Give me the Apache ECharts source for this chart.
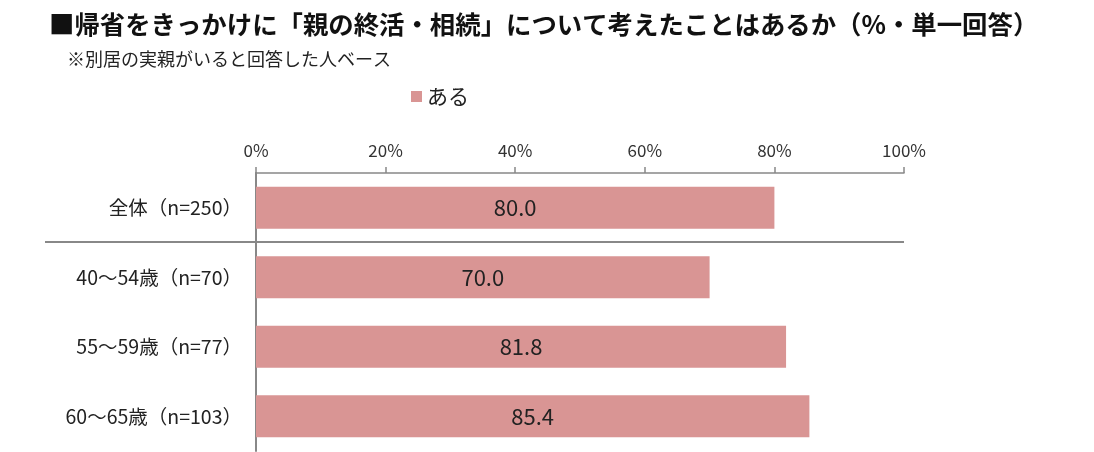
<!DOCTYPE html>
<html>
<head>
<meta charset="utf-8">
<script src="https://cdn.jsdelivr.net/npm/echarts@6/dist/echarts.min.js"></script>
<style>
html,body{margin:0;padding:0;background:#fff;}
#main{width:1094px;height:452px;}
</style>
</head>
<body>
<div id="main"></div>
<script>
var titleText = '■帰省をきっかけに「親の終活・相続」について考えたことはあるか（%・単一回答）';
var subText = '※別居の実親がいると回答した人ベース';
var seriesName = 'ある';
var categories = ['全体（n=250）', '40～54歳（n=70）', '55～59歳（n=77）', '60～65歳（n=103）'];
var values = [80.0, 70.0, 81.8, 85.4];
var xTicks = [0, 20, 40, 60, 80, 100];

var font = '"Noto Sans CJK JP", "Noto Sans", sans-serif';
var myChart = echarts.init(document.getElementById('main'));

var option = {
    animation: false,
    textStyle: { fontFamily: font },
    title: [
        {
            text: titleText,
            left: 44, top: 7,
            textStyle: { fontSize: 25.4, fontWeight: 'bold', color: '#111', fontFamily: font }
        },
        {
            text: subText,
            left: 62, top: 45,
            textStyle: { fontSize: 18, fontWeight: 'normal', color: '#222', fontFamily: font }
        }
    ],
    legend: {
        data: [seriesName],
        left: 406, top: 81,
        icon: 'rect',
        itemWidth: 11, itemHeight: 11, itemGap: 8,
        textStyle: { fontSize: 21, color: '#222', fontFamily: font }
    },
    grid: { left: 256, right: 190, top: 173, bottom: 1, containLabel: false },
    xAxis: {
        type: 'value',
        position: 'top',
        min: xTicks[0], max: xTicks[xTicks.length - 1], interval: 20,
        axisLine: { show: true, lineStyle: { color: '#888', width: 1.5 } },
        axisTick: { show: true, length: 6, lineStyle: { color: '#888', width: 1.5 } },
        axisLabel: { formatter: '{value}%', fontSize: 17, color: '#333', margin: 14, fontFamily: font },
        splitLine: { show: false }
    },
    yAxis: {
        type: 'category',
        inverse: true,
        data: categories,
        axisLine: { show: true, lineStyle: { color: '#888', width: 2 } },
        axisTick: { show: false },
        splitLine: { show: false },
        axisLabel: { fontSize: 19.5, color: '#222', margin: 14, fontFamily: font, interval: 0 }
    },
    series: [
        {
            name: seriesName,
            type: 'bar',
            data: values,
            barWidth: 42,
            itemStyle: { color: '#D99594' },
            label: {
                show: true, position: 'inside',
                formatter: function (p) { return p.value.toFixed(1); },
                fontSize: 22, color: '#222', fontFamily: font
            }
        }
    ]
};
myChart.setOption(option);

// separator between 全体 and the age groups, placed from the axis scales
var p0 = myChart.convertToPixel({ gridIndex: 0 }, [xTicks[0], categories[0]]);
var p1 = myChart.convertToPixel({ gridIndex: 0 }, [xTicks[xTicks.length - 1], categories[1]]);
var sepY = Math.round((p0[1] + p1[1]) / 2) - 1;
myChart.setOption({
    graphic: [{
        type: 'line',
        shape: { x1: 45, y1: sepY, x2: p1[0], y2: sepY },
        style: { stroke: '#888', lineWidth: 2 },
        z: 10
    }]
});
</script>
</body>
</html>
